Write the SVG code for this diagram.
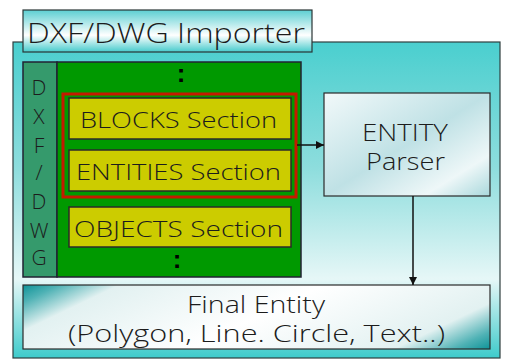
<svg xmlns="http://www.w3.org/2000/svg" width="505" height="361" viewBox="0 0 505 361">
<defs>
<linearGradient id="gOuter" x1="0" y1="0" x2="0" y2="1">
<stop offset="0" stop-color="#4acfcf"/>
<stop offset="0.4" stop-color="#8edddd"/>
<stop offset="0.75" stop-color="#e6f7f7"/>
<stop offset="1" stop-color="#3ecbcb"/>
</linearGradient>
<linearGradient id="gTitle" x1="0" y1="0" x2="0" y2="1">
<stop offset="0" stop-color="#5ccfd2"/>
<stop offset="0.6" stop-color="#ffffff"/>
<stop offset="1" stop-color="#46cbcc"/>
</linearGradient>
<linearGradient id="gParser" x1="0" y1="0" x2="1" y2="1">
<stop offset="0" stop-color="#f2f9fa"/>
<stop offset="0.5" stop-color="#bfe1e5"/>
<stop offset="0.8" stop-color="#eef7f8"/>
<stop offset="1" stop-color="#a9d8dc"/>
</linearGradient>
<linearGradient id="gFinal" gradientUnits="userSpaceOnUse" x1="200.5" y1="200.1" x2="312.5" y2="433.9">
<stop offset="0" stop-color="#0f9398"/>
<stop offset="0.06" stop-color="#4fb2b5"/>
<stop offset="0.16" stop-color="#e2f1f1"/>
<stop offset="0.5" stop-color="#ffffff"/>
<stop offset="0.84" stop-color="#e2f1f1"/>
<stop offset="0.94" stop-color="#4fb2b5"/>
<stop offset="1" stop-color="#0f9398"/>
</linearGradient>
<marker id="arr" viewBox="0 0 10 10" refX="10" refY="5" markerWidth="8" markerHeight="8" markerUnits="userSpaceOnUse" orient="auto">
<path d="M0,0 L10,5 L0,10 z" fill="#111"/>
</marker>
</defs>
<style>
text{font-family:"Open Sans","DejaVu Sans","Liberation Sans",sans-serif;font-weight:300;fill:#1c1c1c}
.sec{fill:#cccc00;stroke:#2a2a2a;stroke-width:1.5}
.sect{font-size:22px}
.bar{font-size:21px;text-anchor:middle}
.dot{font-family:"Liberation Sans",sans-serif;font-size:26px;text-anchor:middle;fill:#000;font-weight:700}
.conn{stroke:#111;stroke-width:1.5;fill:none;marker-end:url(#arr)}
</style>
<g id="importer">
<rect x="13" y="42" width="487" height="316" fill="url(#gOuter)" stroke="#2f3f3f" stroke-width="1.2"/>
</g>
<g id="title">
<rect x="23" y="10" width="289" height="42" fill="url(#gTitle)" stroke="#2a3535" stroke-width="1.2"/>
<text x="27" y="43" font-size="28" textLength="278" lengthAdjust="spacingAndGlyphs">DXF/DWG Importer</text>
</g>
<g id="dxf-bar">
<rect x="23" y="62" width="34" height="215" fill="#359a6c" stroke="#223" stroke-width="1.5"/>
<text class="bar" x="39" y="95">D</text>
<text class="bar" x="39" y="124">X</text>
<text class="bar" x="39" y="153">F</text>
<text class="bar" x="39" y="180">/</text>
<text class="bar" x="39" y="209">D</text>
<text class="bar" x="39" y="238">W</text>
<text class="bar" x="39" y="265">G</text>
</g>
<g id="sections">
<rect x="57" y="62" width="244" height="215" fill="#009900" stroke="#223" stroke-width="1.5"/>
<text class="dot" x="181" y="82">:</text>
<text class="dot" x="177" y="268">:</text>
</g>
<g id="red-group">
<rect x="63" y="94" width="233" height="103" fill="none" stroke="#c41a00" stroke-width="3"/>
</g>
<g id="blocks">
<rect class="sec" x="69" y="98" width="222" height="41"/>
<text class="sect" x="80" y="128" textLength="197" lengthAdjust="spacingAndGlyphs">BLOCKS Section</text>
</g>
<g id="entities">
<rect class="sec" x="69" y="150" width="222" height="41"/>
<text class="sect" x="76" y="180" textLength="205" lengthAdjust="spacingAndGlyphs">ENTITIES Section</text>
</g>
<g id="objects">
<rect class="sec" x="69" y="207" width="222" height="40"/>
<text class="sect" x="74" y="237" textLength="209" lengthAdjust="spacingAndGlyphs">OBJECTS Section</text>
</g>
<g id="parser">
<rect x="324" y="93" width="166" height="103" fill="url(#gParser)" stroke="#2a2a2a" stroke-width="1.2"/>
<text x="362" y="141" font-size="23" textLength="86" lengthAdjust="spacingAndGlyphs">ENTITY</text>
<text x="366" y="170" font-size="23" textLength="79" lengthAdjust="spacingAndGlyphs">Parser</text>
</g>
<g id="final">
<rect x="23" y="285" width="467" height="64" fill="url(#gFinal)" stroke="#2a2a2a" stroke-width="1.2"/>
<text x="187" y="313" font-size="23" textLength="138" lengthAdjust="spacingAndGlyphs">Final Entity</text>
<text x="68" y="342" font-size="23" textLength="377" lengthAdjust="spacingAndGlyphs">(Polygon, Line. Circle, Text..)</text>
</g>
<g id="connectors">
<line class="conn" x1="297" y1="145" x2="324" y2="145"/>
<line class="conn" x1="413" y1="196" x2="413" y2="285"/>
</g>
</svg>
